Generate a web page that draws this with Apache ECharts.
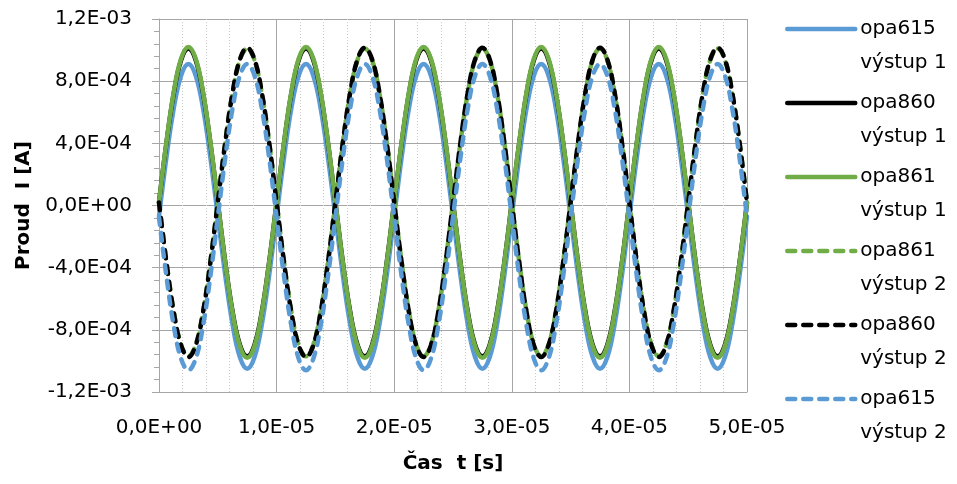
<!DOCTYPE html>
<html>
<head>
<meta charset="utf-8">
<script src="https://cdn.jsdelivr.net/npm/echarts@6/dist/echarts.min.js"></script>
<style>
  html, body { margin: 0; padding: 0; background: #fff; }
  #chart { width: 957px; height: 484px; }
</style>
</head>
<body>
<div id="chart"></div>
<script>
// time in microseconds (axis shows seconds), current in mA (axis shows amperes)
var times = [0, 0.625, 1.25, 1.875, 2.5, 3.125, 3.75, 4.375, 5, 5.625, 6.25, 6.875, 7.5, 8.125, 8.75, 9.375,
  10, 10.625, 11.25, 11.875, 12.5, 13.125, 13.75, 14.375, 15, 15.625, 16.25, 16.875, 17.5, 18.125, 18.75, 19.375,
  20, 20.625, 21.25, 21.875, 22.5, 23.125, 23.75, 24.375, 25, 25.625, 26.25, 26.875, 27.5, 28.125, 28.75, 29.375,
  30, 30.625, 31.25, 31.875, 32.5, 33.125, 33.75, 34.375, 35, 35.625, 36.25, 36.875, 37.5, 38.125, 38.75, 39.375,
  40, 40.625, 41.25, 41.875, 42.5, 43.125, 43.75, 44.375, 45, 45.625, 46.25, 46.875, 47.5, 48.125, 48.75, 49.375,
  50];

var opa615out1 = [-0.07, 0.305, 0.623, 0.835, 0.91, 0.835, 0.623, 0.305, -0.07, -0.445, -0.763, -0.975, -1.05, -0.975, -0.763, -0.445,
  -0.07, 0.305, 0.623, 0.835, 0.91, 0.835, 0.623, 0.305, -0.07, -0.445, -0.763, -0.975, -1.05, -0.975, -0.763, -0.445,
  -0.07, 0.305, 0.623, 0.835, 0.91, 0.835, 0.623, 0.305, -0.07, -0.445, -0.763, -0.975, -1.05, -0.975, -0.763, -0.445,
  -0.07, 0.305, 0.623, 0.835, 0.91, 0.835, 0.623, 0.305, -0.07, -0.445, -0.763, -0.975, -1.05, -0.975, -0.763, -0.445,
  -0.07, 0.305, 0.623, 0.835, 0.91, 0.835, 0.623, 0.305, -0.07, -0.445, -0.763, -0.975, -1.05, -0.975, -0.763, -0.445,
  -0.07];

var opa860out1 = [0.02, 0.399, 0.72, 0.935, 1.01, 0.935, 0.72, 0.399, 0.02, -0.359, -0.68, -0.895, -0.97, -0.895, -0.68, -0.359,
  0.02, 0.399, 0.72, 0.935, 1.01, 0.935, 0.72, 0.399, 0.02, -0.359, -0.68, -0.895, -0.97, -0.895, -0.68, -0.359,
  0.02, 0.399, 0.72, 0.935, 1.01, 0.935, 0.72, 0.399, 0.02, -0.359, -0.68, -0.895, -0.97, -0.895, -0.68, -0.359,
  0.02, 0.399, 0.72, 0.935, 1.01, 0.935, 0.72, 0.399, 0.02, -0.359, -0.68, -0.895, -0.97, -0.895, -0.68, -0.359,
  0.02, 0.399, 0.72, 0.935, 1.01, 0.935, 0.72, 0.399, 0.02, -0.359, -0.68, -0.895, -0.97, -0.895, -0.68, -0.359,
  0.02];

var opa861out1 = [0.02, 0.403, 0.727, 0.944, 1.02, 0.944, 0.727, 0.403, 0.02, -0.363, -0.687, -0.904, -0.98, -0.904, -0.687, -0.363,
  0.02, 0.403, 0.727, 0.944, 1.02, 0.944, 0.727, 0.403, 0.02, -0.363, -0.687, -0.904, -0.98, -0.904, -0.687, -0.363,
  0.02, 0.403, 0.727, 0.944, 1.02, 0.944, 0.727, 0.403, 0.02, -0.363, -0.687, -0.904, -0.98, -0.904, -0.687, -0.363,
  0.02, 0.403, 0.727, 0.944, 1.02, 0.944, 0.727, 0.403, 0.02, -0.363, -0.687, -0.904, -0.98, -0.904, -0.687, -0.363,
  0.02, 0.403, 0.727, 0.944, 1.02, 0.944, 0.727, 0.403, 0.02, -0.363, -0.687, -0.904, -0.98, -0.904, -0.687, -0.363,
  0.02];

var opa861out2 = [0.02, -0.359, -0.68, -0.895, -0.97, -0.895, -0.68, -0.359, 0.02, 0.399, 0.72, 0.935, 1.01, 0.935, 0.72, 0.399,
  0.02, -0.359, -0.68, -0.895, -0.97, -0.895, -0.68, -0.359, 0.02, 0.399, 0.72, 0.935, 1.01, 0.935, 0.72, 0.399,
  0.02, -0.359, -0.68, -0.895, -0.97, -0.895, -0.68, -0.359, 0.02, 0.399, 0.72, 0.935, 1.01, 0.935, 0.72, 0.399,
  0.02, -0.359, -0.68, -0.895, -0.97, -0.895, -0.68, -0.359, 0.02, 0.399, 0.72, 0.935, 1.01, 0.935, 0.72, 0.399,
  0.02, -0.359, -0.68, -0.895, -0.97, -0.895, -0.68, -0.359, 0.02, 0.399, 0.72, 0.935, 1.01, 0.935, 0.72, 0.399,
  0.02];

var opa860out2 = [0.02, -0.361, -0.684, -0.899, -0.975, -0.899, -0.684, -0.361, 0.02, 0.401, 0.724, 0.939, 1.015, 0.939, 0.724, 0.401,
  0.02, -0.361, -0.684, -0.899, -0.975, -0.899, -0.684, -0.361, 0.02, 0.401, 0.724, 0.939, 1.015, 0.939, 0.724, 0.401,
  0.02, -0.361, -0.684, -0.899, -0.975, -0.899, -0.684, -0.361, 0.02, 0.401, 0.724, 0.939, 1.015, 0.939, 0.724, 0.401,
  0.02, -0.361, -0.684, -0.899, -0.975, -0.899, -0.684, -0.361, 0.02, 0.401, 0.724, 0.939, 1.015, 0.939, 0.724, 0.401,
  0.02, -0.361, -0.684, -0.899, -0.975, -0.899, -0.684, -0.361, 0.02, 0.401, 0.724, 0.939, 1.015, 0.939, 0.724, 0.401,
  0.02];

var opa615out2 = [-0.075, -0.452, -0.772, -0.985, -1.06, -0.985, -0.772, -0.452, -0.075, 0.302, 0.622, 0.835, 0.91, 0.835, 0.622, 0.302,
  -0.075, -0.452, -0.772, -0.985, -1.06, -0.985, -0.772, -0.452, -0.075, 0.302, 0.622, 0.835, 0.91, 0.835, 0.622, 0.302,
  -0.075, -0.452, -0.772, -0.985, -1.06, -0.985, -0.772, -0.452, -0.075, 0.302, 0.622, 0.835, 0.91, 0.835, 0.622, 0.302,
  -0.075, -0.452, -0.772, -0.985, -1.06, -0.985, -0.772, -0.452, -0.075, 0.302, 0.622, 0.835, 0.91, 0.835, 0.622, 0.302,
  -0.075, -0.452, -0.772, -0.985, -1.06, -0.985, -0.772, -0.452, -0.075, 0.302, 0.622, 0.835, 0.91, 0.835, 0.622, 0.302,
  -0.075];

var seriesNames = ['opa615 výstup 1', 'opa860 výstup 1', 'opa861 výstup 1', 'opa861 výstup 2', 'opa860 výstup 2', 'opa615 výstup 2'];

(function () {
  var font = 'DejaVu Sans';
  var blue = '#5b9bd5', green = '#70ad47', black = '#000000';

  // Excel style scientific label: 1,2E-03
  function sci(v) {
    var s = v.toExponential(1).split('e');
    var exp = parseInt(s[1], 10);
    var sign = exp < 0 ? '-' : '+';
    var e = Math.abs(exp);
    return s[0].replace('.', ',') + 'E' + sign + (e < 10 ? '0' + e : e);
  }

  function pairs(values) {
    return times.map(function (t, i) { return [t, values[i]]; });
  }

  var lines = [
    { data: opa615out1, color: blue, dashed: false },
    { data: opa860out1, color: black, dashed: false },
    { data: opa861out1, color: green, dashed: false },
    { data: opa861out2, color: green, dashed: true },
    { data: opa860out2, color: black, dashed: true },
    { data: opa615out2, color: blue, dashed: true }
  ];

  var chart = echarts.init(document.getElementById('chart'), null, { renderer: 'canvas' });

  chart.setOption({
    animation: false,
    backgroundColor: '#ffffff',
    grid: { left: 159, right: 210, top: 19, bottom: 92, containLabel: false },
    legend: {
      orient: 'vertical',
      left: 785,
      top: -22,
      padding: 0,
      itemGap: -28,
      itemWidth: 68,
      itemHeight: 14,
      data: seriesNames,
      itemStyle: { opacity: 0 },
      lineStyle: { width: 4.5, cap: 'round' },
      formatter: function (name) {
        var i = name.indexOf(' ');
        return '\n' + name.substring(0, i) + '\n' + name.substring(i + 1);
      },
      textStyle: { fontFamily: font, fontSize: 20, lineHeight: 34, color: '#000' }
    },
    xAxis: {
      type: 'value',
      min: 0,
      max: 50,
      interval: 10,
      name: 'Čas  t [s]',
      nameLocation: 'middle',
      nameGap: 62,
      nameTextStyle: { fontFamily: font, fontSize: 20, fontWeight: 'bold', color: '#000' },
      axisLine: { onZero: false, lineStyle: { color: '#a6a6a6', width: 1 } },
      axisTick: { show: false },
      axisLabel: {
        fontFamily: font, fontSize: 20, color: '#000', margin: 26,
        formatter: function (v) { return sci(v * 1e-6); }
      },
      splitLine: { show: true, lineStyle: { color: '#a6a6a6', width: 1 } },
      minorTick: { show: false, splitNumber: 5 },
      minorSplitLine: { show: true, lineStyle: { color: '#c8c8c8', width: 1, type: [1, 2] } }
    },
    yAxis: {
      type: 'value',
      min: -1.2,
      max: 1.2,
      interval: 0.4,
      name: 'Proud  I [A]',
      nameLocation: 'middle',
      nameGap: 125,
      nameTextStyle: { fontFamily: font, fontSize: 20, fontWeight: 'bold', color: '#000' },
      axisLine: { show: true, onZero: false, lineStyle: { color: '#a6a6a6', width: 1 } },
      axisTick: { show: true, inside: false, length: 7, lineStyle: { color: '#a6a6a6' } },
      minorTick: { show: true, splitNumber: 5, length: 5, lineStyle: { color: '#a6a6a6' } },
      axisLabel: {
        fontFamily: font, fontSize: 20, color: '#000', margin: 27,
        formatter: function (v) { return sci(v * 1e-3); }
      },
      splitLine: { show: true, lineStyle: { color: '#a6a6a6', width: 1 } }
    },
    series: lines.map(function (l, i) {
      return {
        name: seriesNames[i],
        type: 'line',
        data: pairs(l.data),
        smooth: 0.4,
        symbol: 'none',
        showSymbol: false,
        color: l.color,
        lineStyle: {
          color: l.color,
          width: 4.5,
          type: l.dashed ? [8, 8] : 'solid',
          cap: 'round'
        },
        emphasis: { disabled: true }
      };
    })
  });
})();
</script>
</body>
</html>
